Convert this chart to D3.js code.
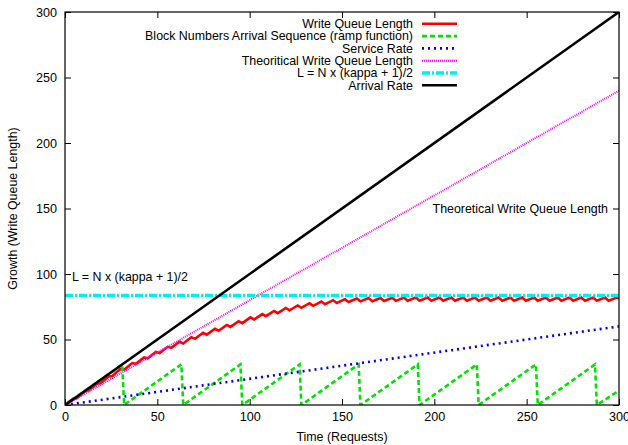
<!DOCTYPE html>
<html>
<head>
<meta charset="utf-8">
<script src="https://cdn.jsdelivr.net/npm/d3@7"></script>
<style>
  body { margin: 0; background: #fff; }
  svg text { font-family: "Liberation Sans", Arial, Helvetica, sans-serif; font-size: 12.4px; fill: #000; }
</style>
</head>
<body>
<svg id="chart" width="628" height="445"></svg>
<script>
// ---- data ----
const xTicks = [0, 50, 100, 150, 200, 250, 300];
const yTicks = [0, 50, 100, 150, 200, 250, 300];

const legendNames = [
  "Write Queue Length",
  "Block Numbers Arrival Sequence (ramp function)",
  "Service Rate",
  "Theoritical Write Queue Length",
  "L = N x (kappa + 1)/2",
  "Arrival Rate"
];

// write queue length (sawtooth, saturating near L)
const writeQueue = [[0,0],[4.4,4.7],[6.4,5.2],[10.8,10.6],[12.8,11.0],[17.2,16.2],[19.2,16.6],[23.6,21.8],
  [25.6,22.1],[30,27.5],[32,26.9],[36.4,32.0],[38.4,31.4],[42.8,36.3],[44.8,35.6],[49.2,40.5],[51.2,39.7],
  [55.6,44.4],[57.6,43.6],[62,48.3],[64,47.0],[68.4,51.8],[70.4,50.5],[74.8,55.1],[76.8,53.7],[81.2,58.2],
  [83.2,56.7],[87.6,61.1],[89.6,59.6],[94,64.0],[96,62.5],[100.4,66.9],[102.4,65.3],[106.8,69.4],[108.8,67.8],
  [113.2,71.8],[115.2,70.1],[119.6,74.1],[121.6,72.3],[126,76.0],[128,74.2],[132.4,77.7],[134.4,75.7],
  [138.8,79.0],[140.8,76.9],[145.2,80.0],[147.2,77.9],[151.6,80.8],[153.6,78.6],[158,81.3],[160,79.1],
  [164.4,81.6],[166.4,79.2],[170.8,81.7],[172.8,79.4],[177.2,81.8],[179.2,79.5],[183.6,82.0],[185.6,79.6],
  [190,82.0],[192,79.6],[196.4,82.0],[198.4,79.6],[202.8,82.0],[204.8,79.6],[209.2,82.0],[211.2,79.6],
  [215.6,82.0],[217.6,79.6],[222,82.0],[224,79.6],[228.4,82.0],[230.4,79.6],[234.8,82.0],[236.8,79.6],
  [241.2,82.0],[243.2,79.6],[247.6,82.0],[249.6,79.6],[254,82.0],[256,79.6],[260.4,82.0],[262.4,79.6],
  [266.8,82.0],[268.8,79.6],[273.2,82.0],[275.2,79.6],[279.6,82.0],[281.6,79.6],[286,82.0],[288,79.6],
  [292.4,82.0],[294.4,79.6],[298.8,82.0],[300,81.4]];

// block numbers arrival sequence (ramp)
const ramp = [[0,0],[31,31],[32,0],[63,31],[64,0],[95,31],[96,0],[127,31],[128,0],[159,31],[160,0],
  [191,31],[192,0],[223,31],[224,0],[255,31],[256,0],[287,31],[288,0],[300,11]];

const serviceRate = [[0,0],[300,60]];
const theoretical = [[0,0],[300,240]];
const limitL = [[0,83.5],[300,83.5]];
const arrivalRate = [[0,0],[300,300]];

// ---- chart ----
const svg = d3.select('#chart');
svg.append('rect').attr('width', 628).attr('height', 445).attr('fill', '#fff');

const mLeft = 65, mRight = 619, mTop = 12, mBottom = 405;

const xScale = d3.scaleLinear().domain([0, 300]).range([mLeft, mRight]);
const yScale = d3.scaleLinear().domain([0, 300]).range([mBottom, mTop]);

// axes, ticks pointing inward on all sides
svg.append('g')
  .attr('transform', `translate(0, ${mBottom})`)
  .call(d3.axisBottom(xScale).tickValues(xTicks).tickSize(-6).tickPadding(7))
  .call(g => g.select('.domain').remove());

svg.append('g')
  .attr('transform', `translate(${mLeft}, 0)`)
  .call(d3.axisLeft(yScale).tickValues(yTicks).tickSize(-6).tickPadding(8))
  .call(g => g.select('.domain').remove());

svg.append('g')
  .attr('transform', `translate(0, ${mTop})`)
  .call(d3.axisTop(xScale).tickValues(xTicks).tickSize(-6).tickFormat(''))
  .call(g => g.select('.domain').remove());

svg.append('g')
  .attr('transform', `translate(${mRight}, 0)`)
  .call(d3.axisRight(yScale).tickValues(yTicks).tickSize(-6).tickFormat(''))
  .call(g => g.select('.domain').remove());

svg.selectAll('.tick text').style('font-size', '12.6px').style('font-family', '"Liberation Sans", Arial, sans-serif');

const line = d3.line().x(d => xScale(d[0])).y(d => yScale(d[1]));

const series = [
  { data: writeQueue, color: '#ff0000', width: 2.6, dash: null },
  { data: ramp, color: '#00e400', width: 2.6, dash: '5,3' },
  { data: serviceRate, color: '#0000ee', width: 2.6, dash: '2,4' },
  { data: theoretical, color: '#ff00ff', width: 2, dash: '1,1' },
  { data: limitL, color: '#00eeee', width: 3.5, dash: '8,2,2,2' },
  { data: arrivalRate, color: '#000000', width: 2.6, dash: null }
];

const plot = svg.append('g');
plot.append('clipPath').attr('id', 'clip')
  .append('rect').attr('x', mLeft).attr('y', mTop).attr('width', mRight - mLeft).attr('height', mBottom - mTop);

plot.selectAll('path.series')
  .data(series)
  .enter()
  .append('path')
  .attr('class', 'series')
  .attr('clip-path', 'url(#clip)')
  .attr('d', s => line(s.data))
  .attr('fill', 'none')
  .attr('stroke', s => s.color)
  .attr('stroke-width', s => s.width)
  .attr('stroke-dasharray', s => s.dash)
  .attr('stroke-linejoin', 'miter');

// border
svg.append('rect')
  .attr('x', mLeft).attr('y', mTop)
  .attr('width', mRight - mLeft).attr('height', mBottom - mTop)
  .attr('fill', 'none').attr('stroke', '#000').attr('stroke-width', 1.2);

// legend
const legend = svg.append('g');
const rows = legend.selectAll('g')
  .data(series)
  .enter()
  .append('g')
  .attr('transform', (d, i) => `translate(0, ${23.8 + i * 12.3})`);

rows.append('text')
  .attr('x', 413).attr('y', 0).attr('dy', '0.35em')
  .attr('text-anchor', 'end')
  .text((d, i) => legendNames[i]);

rows.append('line')
  .attr('x1', 422).attr('x2', 457)
  .attr('y1', 0).attr('y2', 0)
  .attr('stroke', s => s.color)
  .attr('stroke-width', s => s.width)
  .attr('stroke-dasharray', s => s.dash);

// annotations
svg.append('text')
  .attr('x', 608).attr('y', 213)
  .attr('text-anchor', 'end')
  .text('Theoretical Write Queue Length');

svg.append('text')
  .attr('x', 72).attr('y', 281)
  .text('L = N x (kappa + 1)/2');

// axis titles
svg.append('text')
  .attr('x', (mLeft + mRight) / 2).attr('y', 441)
  .attr('text-anchor', 'middle')
  .text('Time (Requests)');

svg.append('text')
  .attr('transform', `translate(17, ${(mTop + mBottom) / 2}) rotate(-90)`)
  .attr('text-anchor', 'middle')
  .text('Growth (Write Queue Length)');
</script>
</body>
</html>
